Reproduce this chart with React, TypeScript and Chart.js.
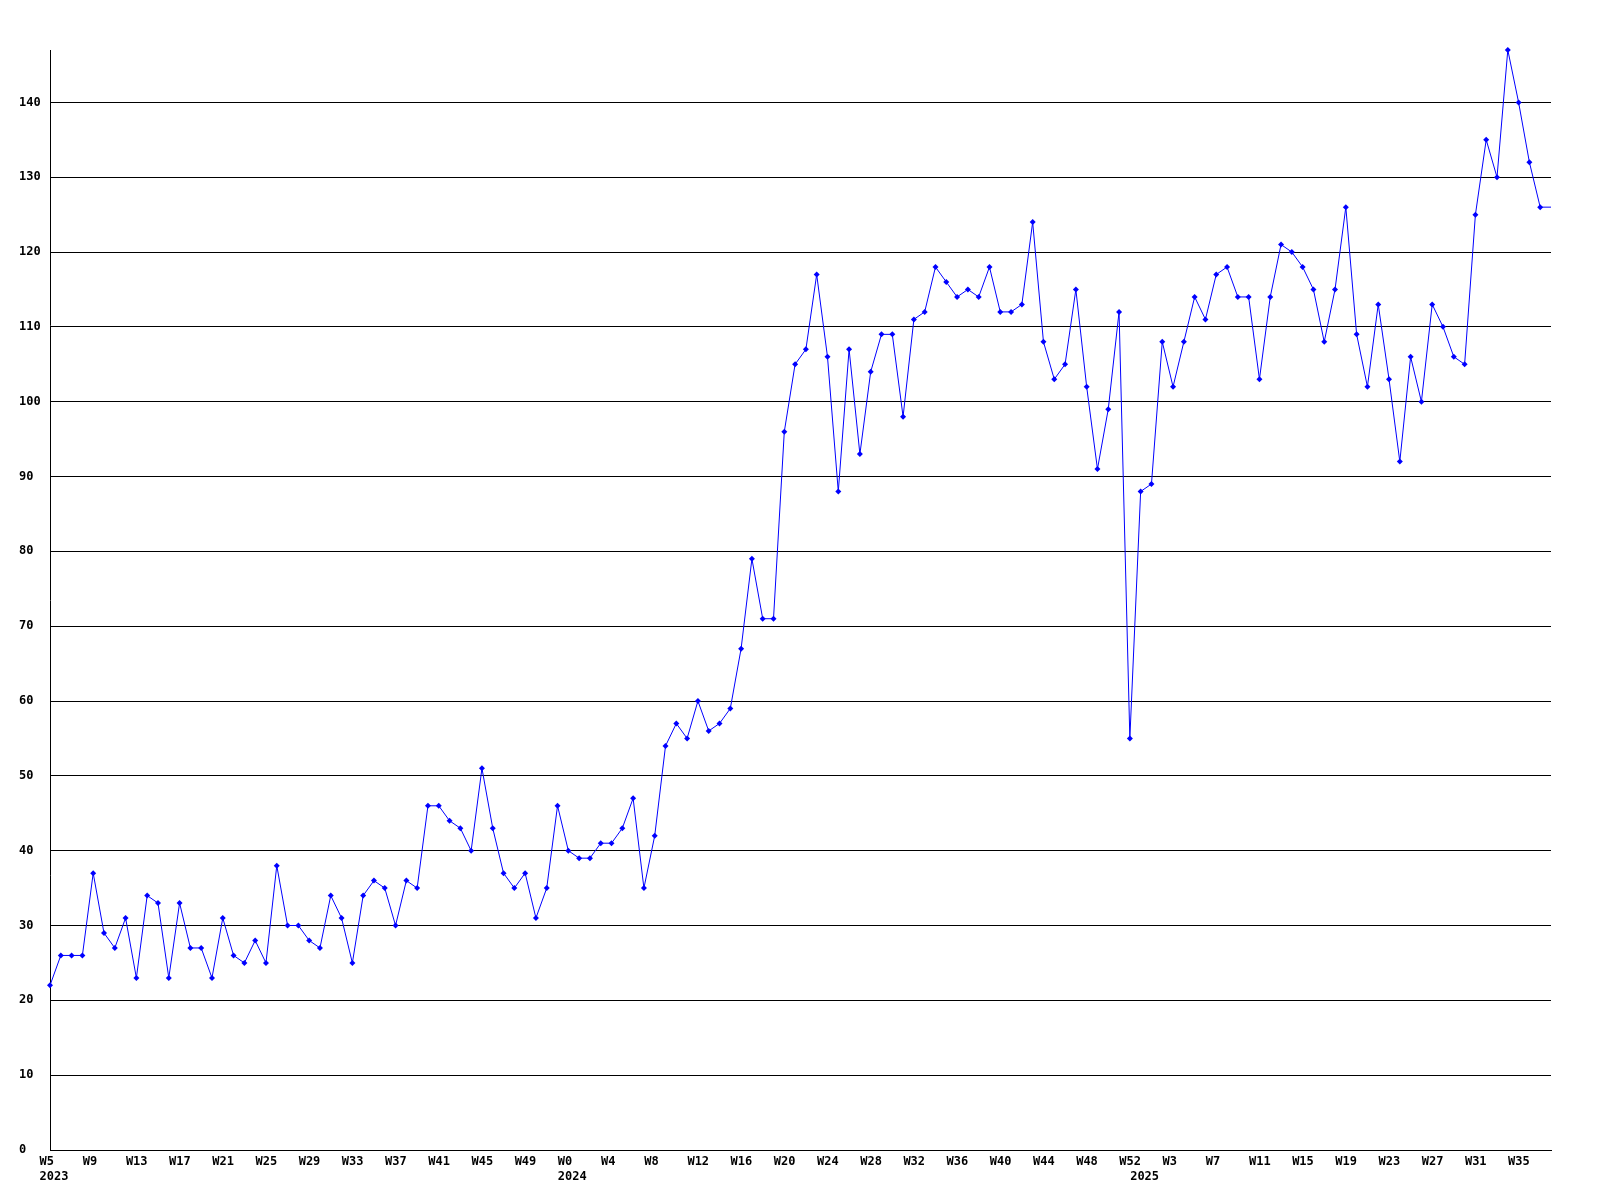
import { useEffect, useRef } from 'react';
import { Chart, registerables } from 'chart.js';

Chart.register(...registerables);

// ---- data ----
const years = ['2023', '2024', '2025'];
const firstWeek = [5, 0, 0];

const values2023 = [
  22, 26, 26, 26, 37, 29, 27, 31, 23, 34, 33, 23, 33, 27, 27, 23, 31, 26, 25, 28,
  25, 38, 30, 30, 28, 27, 34, 31, 25, 34, 36, 35, 30, 36, 35, 46, 46, 44, 43, 40,
  51, 43, 37, 35, 37, 31, 35, 46,
];
const values2024 = [
  40, 39, 39, 41, 41, 43, 47, 35, 42, 54, 57, 55, 60, 56, 57, 59, 67, 79, 71, 71,
  96, 105, 107, 117, 106, 88, 107, 93, 104, 109, 109, 98, 111, 112, 118, 116, 114, 115, 114, 118,
  112, 112, 113, 124, 108, 103, 105, 115, 102, 91, 99, 112, 55,
];
const values2025 = [
  88, 89, 108, 102, 108, 114, 111, 117, 118, 114, 114, 103, 114, 121, 120, 118, 115, 108, 115, 126,
  109, 102, 113, 103, 92, 106, 100, 113, 110, 106, 105, 125, 135, 130, 147, 140, 132, 126, 126,
];

const weekLabelEvery = 4;
const yMin = 0;
const yMax = 147;
const yStep = 10;

// ---- derived ----
const seriesByYear = [values2023, values2024, values2025];
const categories: string[] = [];
const yearStartLabel: string[] = [];
seriesByYear.forEach((vals, y) => {
  vals.forEach((_, k) => {
    categories.push('W' + (firstWeek[y] + k));
    yearStartLabel.push(k === 0 ? years[y] : '');
  });
});
const values: number[] = seriesByYear.flat();
const lastIndex = values.length - 1;

const tickFont = { family: '"DejaVu Sans Mono", "Liberation Mono", monospace', size: 12, weight: 'bold' as const, lineHeight: 1.2 };

export default function App() {
  const ref = useRef<HTMLCanvasElement>(null);

  useEffect(() => {
    if (!ref.current) return;
    const chart = new Chart(ref.current, {
      type: 'line',
      data: {
        labels: categories,
        datasets: [
          {
            data: values,
            borderColor: '#0000ff',
            borderWidth: 1,
            backgroundColor: '#0000ff',
            pointStyle: 'rectRot',
            pointRadius: (ctx: any) => (ctx.dataIndex === lastIndex ? 0 : 3),
            pointBackgroundColor: '#0000ff',
            pointBorderWidth: 0,
            tension: 0,
            fill: false,
            clip: false as any,
          },
        ],
      },
      options: {
        animation: false,
        responsive: false,
        devicePixelRatio: 1,
        layout: { padding: { left: 19, top: 50, right: 49, bottom: 0 } },
        plugins: {
          legend: { display: false },
          tooltip: { enabled: false },
        },
        scales: {
          x: {
            type: 'category',
            offset: false,
            grid: { display: false, drawTicks: false },
            border: { display: true, color: '#000', width: 1 },
            ticks: {
              autoSkip: false,
              maxRotation: 0,
              minRotation: 0,
              align: 'start',
              labelOffset: -10.5,
              padding: 5,
              color: '#000',
              font: tickFont,
              callback: (_v: any, index: number) => {
                const week = index % weekLabelEvery === 0 ? categories[index] : '';
                const yr = yearStartLabel[index];
                if (yr) return [week, yr];
                return week;
              },
            },
            afterFit: (s: any) => {
              s.height = 50;
            },
          },
          y: {
            type: 'linear',
            min: yMin,
            max: yMax,
            grid: { color: '#000', lineWidth: 1, drawTicks: false },
            border: { display: true, color: '#000', width: 1 },
            ticks: {
              stepSize: yStep,
              includeBounds: false,
              crossAlign: 'far',
              color: '#000',
              font: tickFont,
            },
            afterFit: (s: any) => {
              s.width = 31;
            },
          },
        },
      },
    } as any);
    return () => chart.destroy();
  }, []);

  return (
    <div style={{ position: 'fixed', left: 0, top: 0, width: 1600, height: 1200, background: '#fff' }}>
      <canvas ref={ref} width={1600} height={1200} style={{ display: 'block', width: 1600, height: 1200 }} />
    </div>
  );
}
